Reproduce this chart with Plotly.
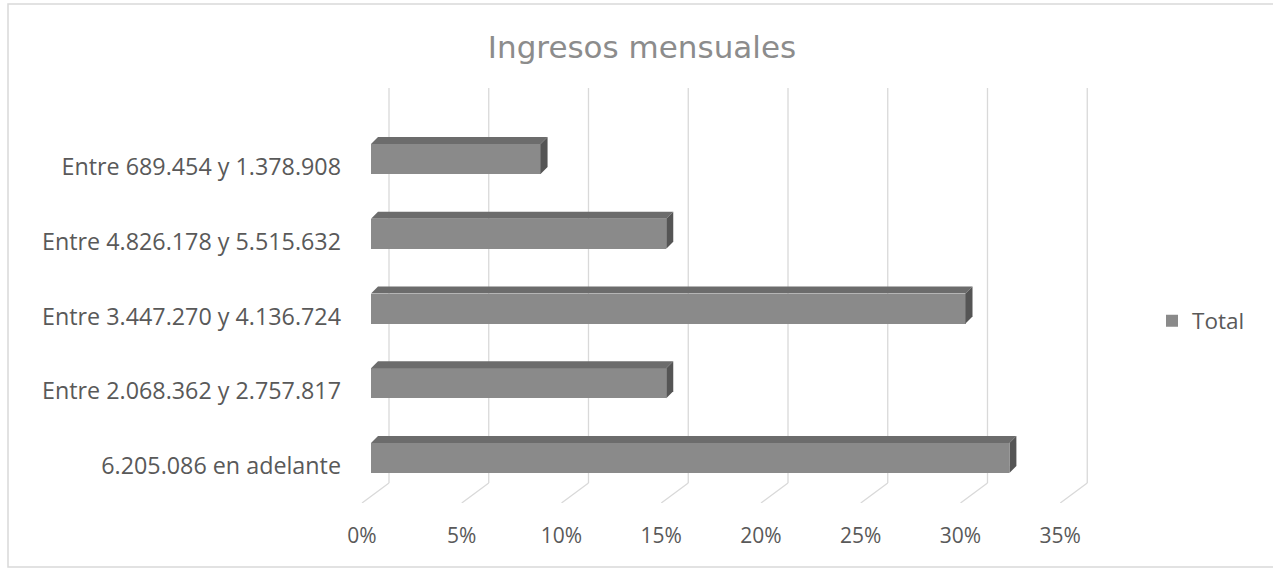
import plotly.graph_objects as go

# ---------------- data ----------------
categories = [
    "6.205.086 en adelante",
    "Entre 2.068.362 y 2.757.817",
    "Entre 3.447.270 y 4.136.724",
    "Entre 4.826.178 y 5.515.632",
    "Entre 689.454 y 1.378.908",
]
values = [32.0, 14.8, 29.8, 14.8, 8.5]
series_name = "Total"
x_ticks = [0, 5, 10, 15, 20, 25, 30, 35]
x_tick_labels = ["0%", "5%", "10%", "15%", "20%", "25%", "30%", "35%"]
title_text = "Ingresos mensuales"

# ---------------- geometry (pixels) ----------------
W, H = 1273, 571
X0, XS = 371.0, 19.95      # bar front plane: 0% position and px per percent
Y0, YS = 458.0, 74.75      # centre of first category and px per category
PLOT_L, PLOT_R, PLOT_T, PLOT_B = 355, 1100, 86, 503


def xd(px):
    return (px - X0) / XS


def yd(py):
    return (Y0 - py) / YS


HALF = 15 / YS             # half thickness of bar front face
DX, DY = 7 / XS, 7 / YS    # 3D depth offset
BACK_DX = 18 / XS          # back wall offset
FLOOR_DX = -9 / XS         # front floor offset
y_floor = yd(503)
y_back_bottom = yd(483)
y_back_top = yd(88)

FRONT = "#8a8a8a"
TOP = "#6c6c6c"
SIDE = "#555555"
GRID = "#d9d9d9"
TXT = "#595959"

fig = go.Figure()

idx = list(range(len(categories)))

# front faces
fig.add_trace(go.Bar(x=values, y=idx, orientation="h", width=2 * HALF,
                     marker=dict(color=FRONT, line=dict(width=0)),
                     name=series_name, showlegend=True))

# top & side faces
for c, v in zip(idx, values):
    fig.add_trace(go.Scatter(
        x=[0, v, v + DX, DX, 0],
        y=[c + HALF, c + HALF, c + HALF + DY, c + HALF + DY, c + HALF],
        fill="toself", fillcolor=TOP, mode="lines", line=dict(width=0, color=TOP),
        hoverinfo="skip", showlegend=False))
    fig.add_trace(go.Scatter(
        x=[v, v + DX, v + DX, v, v],
        y=[c - HALF, c - HALF + DY, c + HALF + DY, c + HALF, c - HALF],
        fill="toself", fillcolor=SIDE, mode="lines", line=dict(width=0, color=SIDE),
        hoverinfo="skip", showlegend=False))

# back-wall gridlines and floor diagonals (drawn below the bars)
shapes = []
for v in x_ticks:
    shapes.append(dict(type="line", xref="x", yref="y", layer="below",
                       x0=v + BACK_DX, x1=v + BACK_DX, y0=y_back_bottom, y1=y_back_top,
                       line=dict(color=GRID, width=1.3)))
    shapes.append(dict(type="line", xref="x", yref="y", layer="below",
                       x0=v + FLOOR_DX, x1=v + BACK_DX, y0=y_floor, y1=y_back_bottom,
                       line=dict(color=GRID, width=1.3)))
shapes.append(dict(type="rect", xref="paper", yref="paper",
                   x0=8 / W, x1=1.02, y0=1 - 567 / H, y1=1 - 4 / H,
                   line=dict(color="#d9d9d9", width=1.5), layer="below"))

fig.update_layout(
    width=W, height=H,
    margin=dict(l=0, r=0, t=0, b=0),
    paper_bgcolor="white", plot_bgcolor="rgba(0,0,0,0)",
    font=dict(family="Open Sans", color=TXT),
    title=dict(text=title_text, x=642 / W, xanchor="center", y=1 - 47 / H, yanchor="middle",
               font=dict(family="DejaVu Sans", size=31, color="#8c8c8c")),
    xaxis=dict(domain=[PLOT_L / W, PLOT_R / W], range=[xd(PLOT_L), xd(PLOT_R)],
               automargin=False,
               showgrid=False, zeroline=False, showline=False,
               tickvals=[v + FLOOR_DX for v in x_ticks], ticktext=x_tick_labels,
               ticks="", ticklabelstandoff=18, tickfont=dict(size=21, color=TXT)),
    yaxis=dict(domain=[1 - PLOT_B / H, 1 - PLOT_T / H], range=[yd(PLOT_B), yd(PLOT_T)],
               automargin=False,
               showgrid=False, zeroline=False, showline=False,
               tickvals=idx, ticktext=categories, ticks="",
               ticklabelstandoff=13, ticklabelshift=8,
               tickfont=dict(size=23.3, color=TXT)),
    legend=dict(x=1152 / W, xanchor="left", y=1 - 321 / H, yanchor="middle",
                font=dict(size=22.5, color=TXT), bgcolor="rgba(0,0,0,0)"),
    bargap=0,
    shapes=shapes,
)

fig.write_html("out.html")
